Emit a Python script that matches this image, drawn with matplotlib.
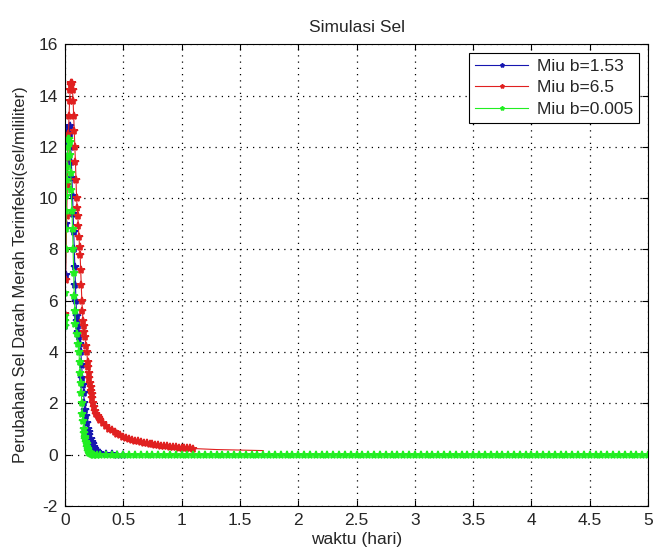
import numpy as np
import matplotlib
matplotlib.use("Agg")
import matplotlib.pyplot as plt

plt.rcParams['font.family'] = ['Liberation Sans', 'DejaVu Sans']
plt.rcParams['axes.unicode_minus'] = False

# Miu b = 1.53 (blue)
blue_t = [0.0, 0.005, 0.01, 0.015, 0.02, 0.025, 0.03, 0.035, 0.04, 0.045, 0.05, 0.055,
          0.06, 0.065, 0.07, 0.075, 0.08, 0.085, 0.09, 0.095, 0.1, 0.105, 0.11, 0.115,
          0.12, 0.128, 0.136, 0.143, 0.15, 0.155, 0.16, 0.167, 0.173, 0.18, 0.188, 0.196,
          0.203, 0.21, 0.22, 0.23, 0.24, 0.25, 0.26, 0.27, 0.285, 0.3, 0.35, 0.4, 0.45, 0.5]
blue_y = [5.0, 7.0, 9.0, 10.5, 11.6, 12.2, 12.6, 12.75, 12.8, 12.5, 12.0, 11.4,
          10.8, 10.1, 9.4, 8.7, 8.0, 7.3, 6.6, 6.0, 5.4, 5.2, 5.0, 4.8,
          4.6, 4.3, 4.0, 3.5, 3.0, 2.7, 2.4, 2.0, 1.75, 1.5, 1.25, 1.0,
          0.87, 0.75, 0.62, 0.5, 0.4, 0.3, 0.22, 0.15, 0.09, 0.05, 0.02, 0.01, 0.0, 0.0]

# Miu b = 6.5 (red)
red_t = [0.0, 0.005, 0.01, 0.015, 0.02, 0.025, 0.03, 0.035, 0.04, 0.045, 0.05, 0.055,
         0.06, 0.065, 0.07, 0.075, 0.08, 0.085, 0.09, 0.095, 0.1, 0.105, 0.11, 0.115,
         0.12, 0.125, 0.13, 0.135, 0.14, 0.145, 0.15, 0.155, 0.16, 0.165, 0.17, 0.18,
         0.187, 0.195, 0.2, 0.205, 0.21, 0.215, 0.22, 0.225, 0.23, 0.235, 0.24, 0.25,
         0.26, 0.27, 0.28, 0.29, 0.3, 0.325, 0.35, 0.375, 0.4, 0.425, 0.45, 0.475,
         0.5, 0.525, 0.55, 0.575, 0.6, 0.625, 0.65, 0.675, 0.7, 0.725, 0.75, 0.775,
         0.8, 0.825, 0.85, 0.875, 0.9, 0.925, 0.95, 0.975, 1.0, 1.025, 1.05, 1.075,
         1.1, 1.2, 1.3, 1.5, 1.7]
red_y = [5.5, 6.8, 8.0, 9.3, 10.5, 11.6, 12.5, 13.2, 13.8, 14.2, 14.4, 14.5,
         14.5, 14.2, 13.8, 13.2, 12.6, 12.0, 11.4, 10.7, 10.0, 9.6, 9.3, 8.9,
         8.5, 8.1, 7.8, 7.2, 6.6, 6.0, 5.6, 5.2, 5.0, 4.8, 4.6, 4.25,
         4.0, 3.6, 3.4, 3.2, 3.0, 2.8, 2.65, 2.5, 2.35, 2.2, 2.0, 1.87,
         1.72, 1.6, 1.5, 1.42, 1.35, 1.22, 1.12, 1.02, 0.95, 0.88, 0.82, 0.76,
         0.7, 0.66, 0.62, 0.58, 0.55, 0.52, 0.49, 0.47, 0.44, 0.42, 0.4, 0.38,
         0.36, 0.35, 0.33, 0.32, 0.31, 0.3, 0.29, 0.28, 0.27, 0.26, 0.25, 0.245,
         0.24, 0.22, 0.2, 0.18, 0.16]
red_marked = 85  # markers drawn up to t = 1.1, line only after

# Miu b = 0.005 (green)
green_t = [0.0, 0.0, 0.0, 0.002, 0.005, 0.0075, 0.01, 0.0125, 0.015, 0.0175, 0.02, 0.025,
           0.03, 0.035, 0.04, 0.045, 0.05, 0.055, 0.06, 0.065, 0.07, 0.075, 0.08, 0.085,
           0.09, 0.1, 0.11, 0.12, 0.125, 0.13, 0.135, 0.14, 0.145, 0.15, 0.155, 0.16,
           0.165, 0.17, 0.175, 0.18, 0.185, 0.19, 0.195, 0.2, 0.205, 0.21, 0.215, 0.22,
           0.23, 0.24, 0.25, 0.275,
           0.3, 0.35, 0.4, 0.45, 0.5, 0.55, 0.6, 0.65, 0.7, 0.75, 0.8, 0.85, 0.9, 0.95,
           1.0, 1.05, 1.1, 1.15, 1.2, 1.25, 1.3, 1.35, 1.4, 1.45, 1.5, 1.55, 1.6, 1.65,
           1.7, 1.75, 1.8, 1.85, 1.9, 1.95, 2.0, 2.05, 2.1, 2.15, 2.2, 2.25, 2.3, 2.35,
           2.4, 2.45, 2.5, 2.55, 2.6, 2.65, 2.7, 2.75, 2.8, 2.85, 2.9, 2.95, 3.0, 3.05,
           3.1, 3.15, 3.2, 3.25, 3.3, 3.35, 3.4, 3.45, 3.5, 3.55, 3.6, 3.65, 3.7, 3.75,
           3.8, 3.85, 3.9, 3.95, 4.0, 4.05, 4.1, 4.15, 4.2, 4.25, 4.3, 4.35, 4.4, 4.45,
           4.5, 4.55, 4.6, 4.65, 4.7, 4.75, 4.8, 4.85, 4.9, 4.95, 5.0]
green_y = [5.0, 5.2, 5.4, 6.3, 8.0, 8.8, 9.5, 10.1, 10.7, 11.2, 11.6, 12.0,
           12.3, 12.3, 12.2, 11.7, 11.0, 10.3, 9.5, 8.8, 8.0, 7.1, 6.2, 5.6,
           5.1, 4.7, 4.3, 4.0, 3.6, 3.2, 2.8, 2.4, 2.0, 1.6, 1.3, 1.0,
           0.85, 0.7, 0.6, 0.5, 0.4, 0.3, 0.22, 0.15, 0.1, 0.07, 0.05, 0.03,
           0.015, 0.005, 0.0, 0.0] + [0.0] * 95

legend_labels = ['Miu b=1.53', 'Miu b=6.5', 'Miu b=0.005']
x_ticks = [0, 0.5, 1, 1.5, 2, 2.5, 3, 3.5, 4, 4.5, 5]
x_tick_labels = ['0', '0.5', '1', '1.5', '2', '2.5', '3', '3.5', '4', '4.5', '5']
y_ticks = [-2, 0, 2, 4, 6, 8, 10, 12, 14, 16]

txt = '#262626'
fig = plt.figure(figsize=(6.56, 5.53), dpi=100)
ax = fig.add_axes([0.099, 0.085, 0.889, 0.835])

mk = dict(marker='*', lw=0.8, ms=6, mew=1.2)
ax.plot(blue_t, blue_y, color='#1616b0', label=legend_labels[0], **mk)
ax.plot(red_t, red_y, color='#e02020', label=legend_labels[1],
        markevery=slice(0, red_marked), **mk)
ax.plot(green_t, green_y, color='#22ee22', label=legend_labels[2], **mk)

ax.set_xlim(0, 5)
ax.set_ylim(-2, 16)
ax.set_xticks(x_ticks)
ax.set_xticklabels(x_tick_labels)
ax.set_yticks(y_ticks)
ax.tick_params(direction='in', top=True, right=True, labelsize=12.5, length=4,
               labelcolor=txt, pad=5)
ax.grid(True, linestyle=(0, (1, 4)), color='black', linewidth=0.9)
for s in ax.spines.values():
    s.set_color('black')
    s.set_linewidth(0.8)

ax.set_title('Simulasi Sel', fontsize=12.5, color=txt, pad=9)
ax.set_xlabel('waktu (hari)', fontsize=12.5, color=txt, labelpad=3)
ax.set_ylabel('Perubahan Sel Darah Merah Terinfeksi(sel/mililiter)', fontsize=12,
              color=txt, labelpad=8)

leg = ax.legend(loc='upper right', fontsize=12.5, handlelength=3.1, fancybox=False,
                edgecolor='black', framealpha=1, borderaxespad=0.5, markerscale=0.5,
                labelspacing=0.35, borderpad=0.35, handletextpad=0.5)
for t in leg.get_texts():
    t.set_color(txt)
leg.get_frame().set_linewidth(0.8)

fig.savefig('out.png', dpi=100)
